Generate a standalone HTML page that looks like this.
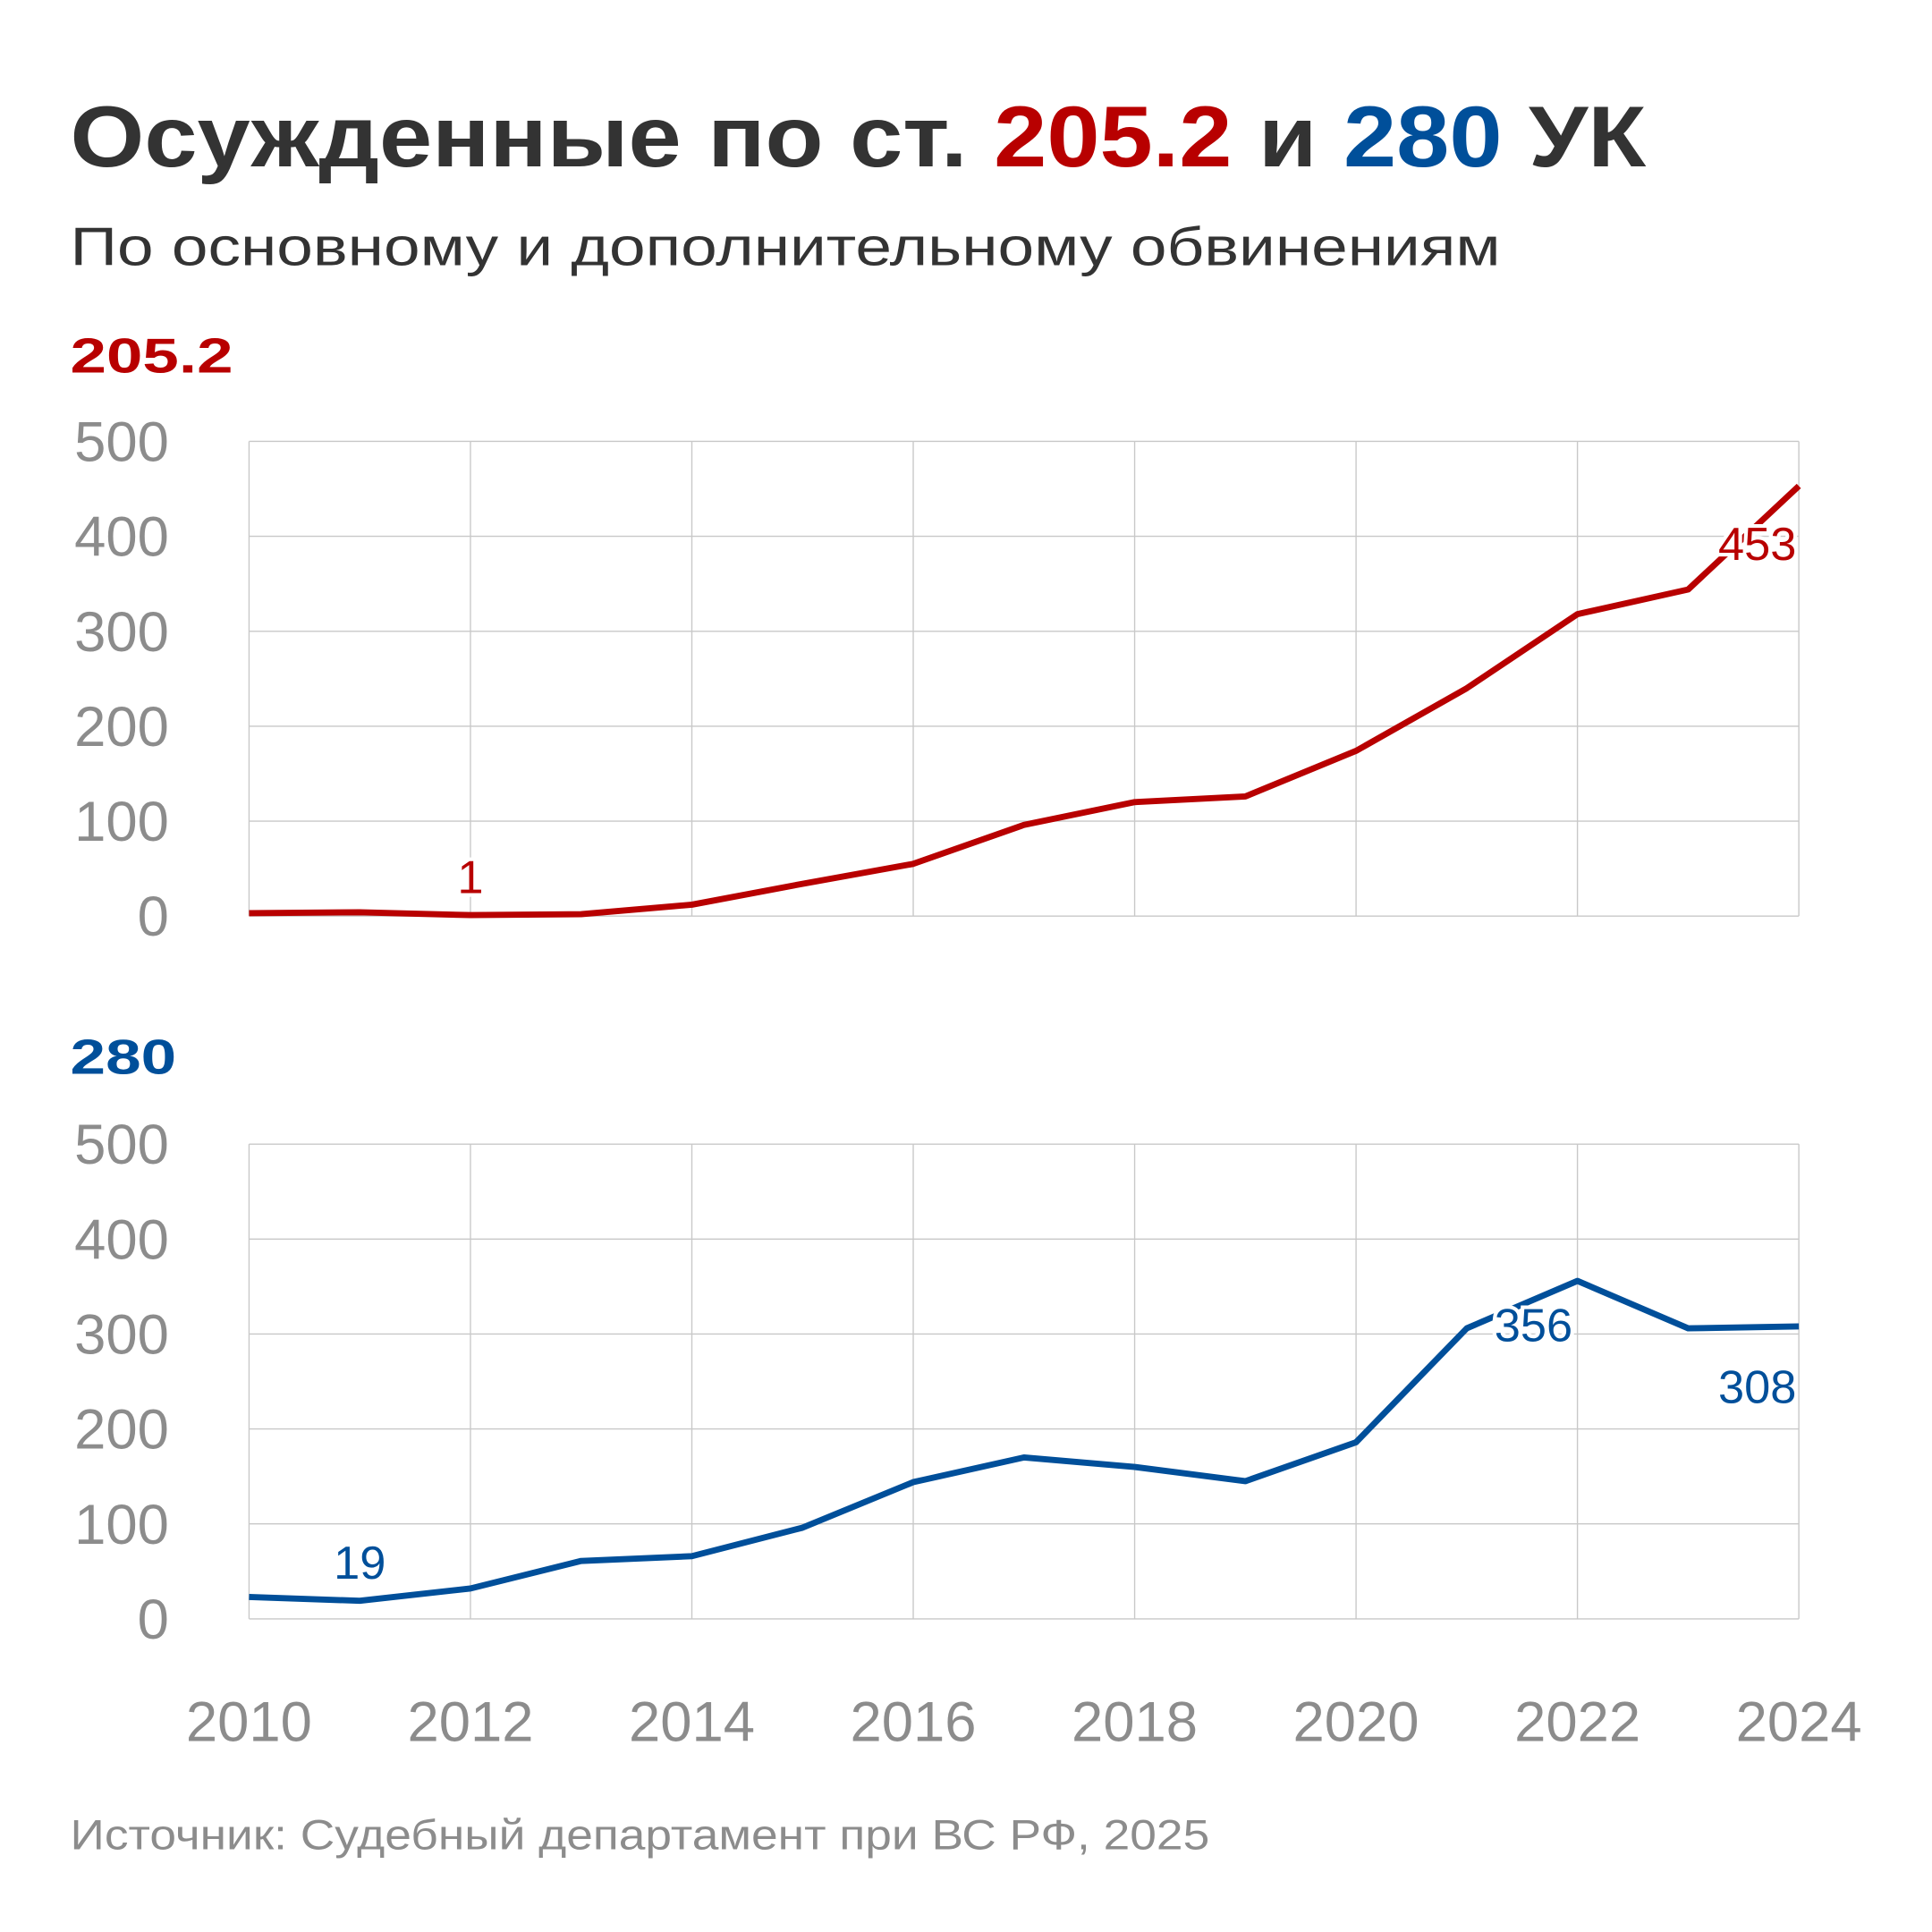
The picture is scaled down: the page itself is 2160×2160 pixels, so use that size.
<!DOCTYPE html>
<html><head><meta charset="utf-8"><style>html,body{margin:0;padding:0;background:#fff}svg{display:block}text{font-family:"Liberation Sans",sans-serif}</style></head>
<body>
<svg id="chart" width="2160" height="2160" viewBox="0 0 1567 1567" xmlns="http://www.w3.org/2000/svg">
<rect width="1567" height="1567" fill="#fff"/>
<text x="57" y="135" font-size="70" font-weight="bold" fill="#333" textLength="1278" lengthAdjust="spacingAndGlyphs">Осужденные по ст. <tspan fill="#b80000">205.2</tspan> и <tspan fill="#004f9a">280</tspan> УК</text>
<text x="57" y="215" font-size="44" fill="#333" textLength="1160" lengthAdjust="spacingAndGlyphs">По основному и дополнительному обвинениям</text>
<text x="57" y="302" font-size="40" font-weight="bold" fill="#b80000" textLength="132" lengthAdjust="spacingAndGlyphs">205.2</text>
<text x="57" y="871" font-size="40" font-weight="bold" fill="#004f9a" textLength="86" lengthAdjust="spacingAndGlyphs">280</text>
<text x="57" y="1500" font-size="34" fill="#8c8c8c" textLength="924" lengthAdjust="spacingAndGlyphs">Источник: Судебный департамент при ВС РФ, 2025</text>
<g id="g"></g>
</svg>
<script>
const years=[2010,2011,2012,2013,2014,2015,2016,2017,2018,2019,2020,2021,2022,2023,2024];
const seriesA=[3,4,1,2,12,34,55,96,120,126,174,240,318,344,453];
const seriesB=[23,19,32,61,66,96,144,170,160,145,186,306,356,306,308];
const yTicks=[0,100,200,300,400,500];
const xTicks=[2010,2012,2014,2016,2018,2020,2022,2024];
const NS="http://www.w3.org/2000/svg";const g=document.getElementById('g');
const L=202,R=1459;
const x=v=>L+(v-2010)/(2024-2010)*(R-L);
function mk(t,a,p){const e=document.createElementNS(NS,t);for(const k in a)e.setAttribute(k,a[k]);(p||g).appendChild(e);return e;}
function panel(top,bot,vals,color,name,labels){
  const y=v=>bot-v/500*(bot-top);
  yTicks.forEach(t=>{const l=mk('line',{x1:L,x2:R,y1:y(t),y2:y(t),stroke:'#c8c8c8','stroke-width':1});
    
    
    const tx=mk('text',{x:137,y:y(t)+16,'font-size':46,fill:'#8c8c8c','text-anchor':'end'});tx.textContent=t;
    
    });
  xTicks.forEach(t=>{const l=mk('line',{x1:x(t),x2:x(t),y1:top,y2:bot,stroke:'#c8c8c8','stroke-width':1});
    
    });
  const p=mk('polyline',{points:vals.map((v,i)=>x(years[i])+','+y(v)).join(' '),fill:'none',stroke:color,'stroke-width':5,'stroke-linejoin':'round'});
  
  
  labels.forEach(([i,dx,dy,anc])=>{const v=vals[i];
    const t=mk('text',{x:x(years[i])+dx,y:y(v)+dy,'font-size':38,fill:color,'text-anchor':anc,stroke:'#fff','stroke-width':6,'paint-order':'stroke'});t.textContent=v;
    
    });
}
panel(358,743,seriesA,'#b80000','series-205',[[2,0,-18,'middle'],[14,-2,60,'end']]);
panel(928,1313,seriesB,'#004f9a','series-280',[[12,-4,49,'end'],[14,-2,62,'end'],[1,0,-18,'middle']]);
xTicks.forEach(t=>{const tx=mk('text',{x:x(t),y:1412,'font-size':46,fill:'#8c8c8c','text-anchor':'middle'});tx.textContent=t;
  
  });
</script>
</body></html>
